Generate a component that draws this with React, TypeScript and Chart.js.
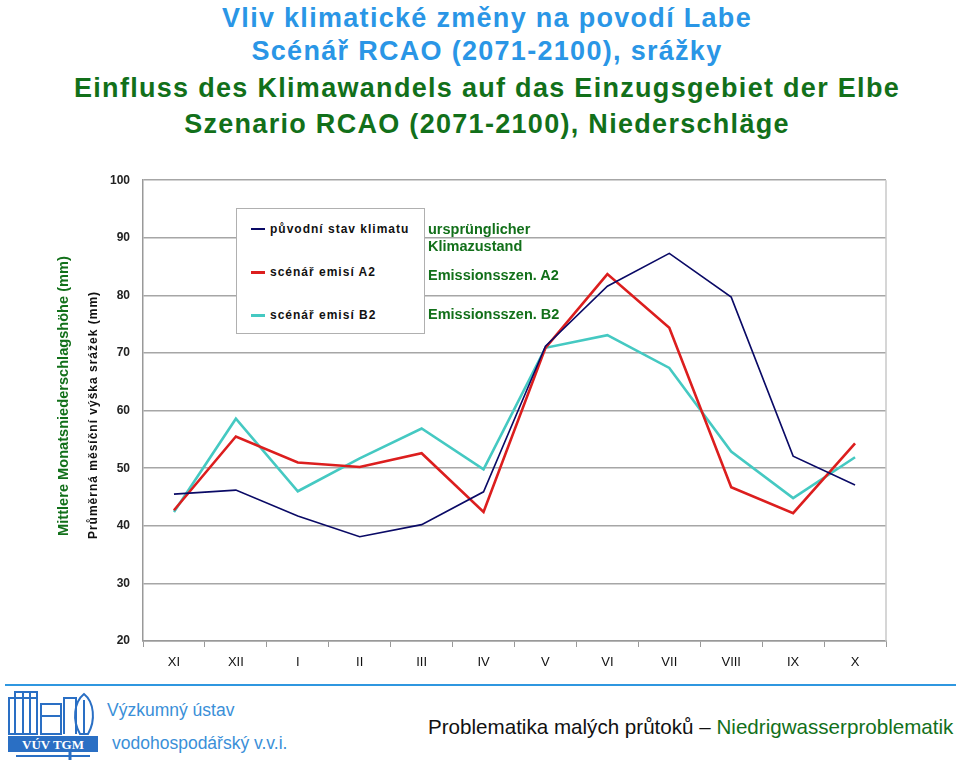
import React, { useEffect, useRef } from "react";
import { Chart, registerables } from "chart.js";

Chart.register(...registerables);

const months = ["XI", "XII", "I", "II", "III", "IV", "V", "VI", "VII", "VIII", "IX", "X"];
const original = [45.5, 46.2, 41.7, 38.1, 40.2, 45.9, 71.2, 81.6, 87.3, 79.7, 52.1, 47.1];
const scenarioA2 = [42.7, 55.5, 51.0, 50.2, 52.6, 42.4, 70.9, 83.7, 74.4, 46.7, 42.2, 54.3];
const scenarioB2 = [42.4, 58.6, 46.0, 51.7, 56.9, 49.8, 70.9, 73.1, 67.4, 52.9, 44.8, 51.9];
const yTicks = [20, 30, 40, 50, 60, 70, 80, 90, 100];

const SANS = '"Liberation Sans", Arial, sans-serif';
const BLUE = "#2a96e6";
const GREEN = "#12701a";

const borderPlugin = {
  id: "plotBorder",
  afterDraw(chart: any) {
    const { ctx, chartArea } = chart;
    ctx.save();
    ctx.strokeStyle = "#c8c8c8";
    ctx.lineWidth = 1.5;
    ctx.beginPath();
    ctx.moveTo(chartArea.right, chartArea.top);
    ctx.lineTo(chartArea.right, chartArea.bottom);
    ctx.stroke();
    ctx.restore();
  },
};

function LineChart() {
  const ref = useRef<HTMLCanvasElement | null>(null);
  useEffect(() => {
    if (!ref.current) return;
    const chart = new Chart(ref.current, {
      type: "line",
      data: {
        labels: months,
        datasets: [
          { label: "původní stav klimatu", data: original, borderColor: "#0a0a66", borderWidth: 1.6, pointRadius: 0, tension: 0 },
          { label: "scénář emisí A2", data: scenarioA2, borderColor: "#dc1e1e", borderWidth: 2.6, pointRadius: 0, tension: 0 },
          { label: "scénář emisí B2", data: scenarioB2, borderColor: "#45c9c2", borderWidth: 2.6, pointRadius: 0, tension: 0 },
        ],
      },
      options: {
        responsive: false,
        animation: false,
        layout: { padding: { left: 0, right: 74, top: 18, bottom: 0 } },
        plugins: { legend: { display: false }, tooltip: { enabled: false } },
        scales: {
          x: {
            type: "category",
            offset: true,
            grid: { offset: true, drawOnChartArea: false, drawTicks: true, tickLength: 6, color: "#999" },
            border: { color: "#999", width: 1.5 },
            ticks: { color: "#111", font: { family: SANS, size: 13 }, padding: 8, maxRotation: 0 },
            afterFit: (s: any) => { s.height = 39; },
          },
          y: {
            min: 20,
            max: 100,
            afterBuildTicks: (s: any) => { s.ticks = yTicks.map((v) => ({ value: v })); },
            grid: { color: "#a6a6a6", lineWidth: 1.5, drawTicks: false },
            border: { color: "#999", width: 1.5 },
            ticks: { color: "#222", font: { family: SANS, size: 12, weight: "bold" }, padding: 13 },
            afterFit: (s: any) => { s.width = 143; },
          },
        },
      },
      plugins: [borderPlugin],
    } as any);
    return () => chart.destroy();
  }, []);
  return <canvas ref={ref} width={960} height={520} style={{ display: "block", width: 960, height: 520 }} />;
}

const Title = ({ text, top, color }: { text: string; top: number; color: string }) => (
  <div style={{ position: "absolute", left: 7, width: 960, top, textAlign: "center", lineHeight: "36px", whiteSpace: "nowrap", fontFamily: SANS, fontWeight: "bold", fontSize: 27, letterSpacing: 1.3, color }}>
    {text}
  </div>
);

const legendRow = (color: string, width: number, text: string, top: number) => (
  <div style={{ position: "absolute", left: 14, top, height: 16, display: "flex", alignItems: "center" }}>
    <div style={{ width: 14, height: width, background: color, marginRight: 5 }} />
    <span style={{ fontFamily: SANS, fontWeight: "bold", fontSize: 12, letterSpacing: 1, color: "#111", whiteSpace: "nowrap" }}>{text}</span>
  </div>
);

const greenLabel: React.CSSProperties = {
  position: "absolute",
  left: 428,
  fontFamily: SANS,
  fontWeight: "bold",
  fontSize: 14.5,
  color: GREEN,
  whiteSpace: "nowrap",
  lineHeight: "16px",
};

export default function App() {
  return (
    <div style={{ position: "absolute", left: 0, top: 0, width: 960, height: 766, background: "#fff", overflow: "hidden" }}>
      <Title text="Vliv klimatické změny na povodí Labe" top={0} color={BLUE} />
      <Title text="Scénář RCAO (2071-2100), srážky" top={33} color={BLUE} />
      <Title text="Einfluss des Klimawandels auf das Einzugsgebiet der Elbe" top={70} color={GREEN} />
      <Title text="Szenario RCAO (2071-2100), Niederschläge" top={106} color={GREEN} />

      <div style={{ position: "absolute", left: 0, top: 160 }}>
        <LineChart />
      </div>

      <div style={{ position: "absolute", left: 63, top: 396, width: 0, height: 0 }}>
        <div style={{ position: "absolute", transform: "translate(-50%, -50%) rotate(-90deg)", fontFamily: SANS, fontWeight: "bold", fontSize: 14.6, color: GREEN, whiteSpace: "nowrap" }}>
          Mittlere Monatsniederschlagshöhe (mm)
        </div>
      </div>
      <div style={{ position: "absolute", left: 93, top: 415, width: 0, height: 0 }}>
        <div style={{ position: "absolute", transform: "translate(-50%, -50%) rotate(-90deg)", fontFamily: SANS, fontWeight: "bold", fontSize: 12, letterSpacing: 1, color: "#111", whiteSpace: "nowrap" }}>
          Průměrná měsíční výška srážek (mm)
        </div>
      </div>

      <div style={{ position: "absolute", left: 236, top: 208, width: 187, height: 124, border: "1px solid #b0b0b0", background: "#fff" }}>
        {legendRow("#0a0a66", 2, "původní stav klimatu", 12)}
        {legendRow("#dc1e1e", 3, "scénář  emisí A2", 55)}
        {legendRow("#45c9c2", 3, "scénář emisí  B2", 98)}
      </div>
      <div style={{ ...greenLabel, top: 221 }}>ursprünglicher</div>
      <div style={{ ...greenLabel, top: 238 }}>Klimazustand</div>
      <div style={{ ...greenLabel, top: 267 }}>Emissionsszen. A2</div>
      <div style={{ ...greenLabel, top: 306 }}>Emissionsszen. B2</div>

      <div style={{ position: "absolute", left: 5, top: 684, width: 951, height: 2, background: "#2f97e0" }} />

      <svg style={{ position: "absolute", left: 6, top: 690 }} width={94} height={72} viewBox="0 0 94 72">
        <g fill="none" stroke="#2a6fc4" strokeWidth={2}>
          <rect x={3} y={8} width={28} height={36} />
          <rect x={9} y={2} width={22} height={42} />
          <line x1={17} y1={2} x2={17} y2={44} />
          <line x1={24} y1={2} x2={24} y2={44} />
          <rect x={35} y={14} width={20} height={30} />
          <path d="M35 26 H55" />
          <path d="M58 44 V8 H70 V44" />
          <path d="M74 44 C66 30 68 12 78 4 C88 12 90 30 82 44 Z" />
          <line x1={78} y1={10} x2={78} y2={44} />
        </g>
        <rect x={2} y={46} width={90} height={16} fill="#2a6fc4" />
        <text x={47} y={59} textAnchor="middle" fill="#fff" fontFamily='"Liberation Serif", "DejaVu Serif", serif' fontWeight="bold" fontSize={13}>VÚV TGM</text>
        <path d="M10 66 H84" stroke="#2a6fc4" strokeWidth={2} />
        <path d="M64 62 V70" stroke="#2a6fc4" strokeWidth={3} />
      </svg>

      <div style={{ position: "absolute", left: 107, top: 700, fontFamily: SANS, fontSize: 17.5, color: "#3a8fd8", whiteSpace: "nowrap" }}>Výzkumný ústav</div>
      <div style={{ position: "absolute", left: 112, top: 733, fontFamily: SANS, fontSize: 17.5, color: "#3a8fd8", whiteSpace: "nowrap" }}>vodohospodářský v.v.i.</div>
      <div style={{ position: "absolute", left: 428, top: 715, fontFamily: SANS, fontSize: 20.6, color: "#111", whiteSpace: "nowrap" }}>
        Problematika malých průtoků – <span style={{ color: GREEN }}>Niedrigwasserproblematik</span>
      </div>
    </div>
  );
}
